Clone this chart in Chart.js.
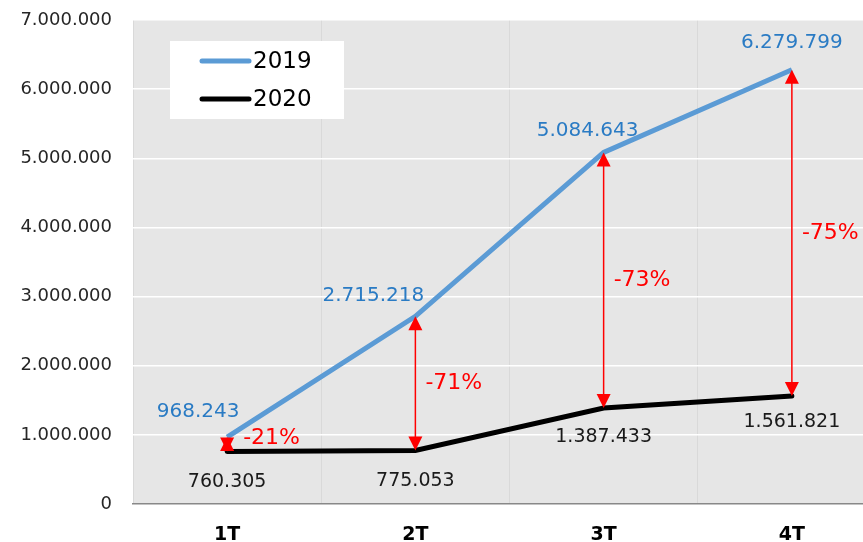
<!DOCTYPE html>
<html>
<head>
<meta charset="utf-8">
<script src="https://cdn.jsdelivr.net/npm/chart.js@4"></script>
<style>
    html, body { margin: 0; padding: 0; background: #fff; overflow: hidden; }
    #wrap { position: relative; width: 886px; height: 542px; }
</style>
</head>
<body>
<div id="wrap"><canvas id="chart"></canvas></div>
<script>
// Quarterly values
const quarters = ['1T', '2T', '3T', '4T'];
const values2019 = [968243, 2715218, 5084643, 6279799];
const values2020 = [760305, 775053, 1387433, 1561821];
const pctLabels = ['-21%', '-71%', '-73%', '-75%'];
const yTicks = [0, 1000000, 2000000, 3000000, 4000000, 5000000, 6000000, 7000000];

const FONT = 'DejaVu Sans';
const fmt = v => v.toString().replace(/\B(?=(\d{3})+(?!\d))/g, '.');

// label offsets for the value labels (px, relative to point)
const offs2019 = [[-29, -25], [-42, -20], [-16, -22], [0, -27]];
const offs2020 = [[0, 31], [0, 31], [0, 29], [0, 26]];

// gray plot background
const bgPlugin = {
    id: 'bg',
    beforeDraw(chart) {
        const a = chart.chartArea;
        const ctx = chart.ctx;
        ctx.save();
        ctx.fillStyle = '#e6e6e6';
        ctx.fillRect(a.left, a.top, a.right - a.left, a.bottom - a.top);
        ctx.restore();
    }
};

function arrowHead(ctx, x, y, dir) {
    // dir = -1 points up, 1 points down
    ctx.beginPath();
    ctx.moveTo(x, y);
    ctx.lineTo(x - 7, y - dir * 14);
    ctx.lineTo(x + 7, y - dir * 14);
    ctx.closePath();
    ctx.fill();
}

// arrows, percent labels, value labels and legend
const overlayPlugin = {
    id: 'overlay',
    afterDatasetsDraw(chart) {
        const ctx = chart.ctx;
        const xs = chart.scales.x, ys = chart.scales.y;
        ctx.save();

        quarters.forEach((q, i) => {
            const x = xs.getPixelForValue(i);
            const yTop = ys.getPixelForValue(values2019[i]);
            const yBot = ys.getPixelForValue(values2020[i]);
            ctx.strokeStyle = '#ff0000';
            ctx.fillStyle = '#ff0000';
            ctx.lineWidth = 1.5;
            ctx.beginPath();
            ctx.moveTo(x, yTop + 4);
            ctx.lineTo(x, yBot - 4);
            ctx.stroke();
            arrowHead(ctx, x, yTop, -1);
            arrowHead(ctx, x, yBot, 1);

            ctx.font = '22px "' + FONT + '"';
            ctx.textAlign = 'left';
            ctx.textBaseline = 'middle';
            const midY = i === 0 ? yTop + 1 : (yTop + yBot) / 2;
            ctx.fillText(pctLabels[i], x + (i === 0 ? 16 : 10), midY);
        });

        ctx.font = '20px "' + FONT + '"';
        ctx.textAlign = 'center';
        ctx.textBaseline = 'middle';
        values2019.forEach((v, i) => {
            const x = xs.getPixelForValue(i);
            const y = ys.getPixelForValue(v);
            ctx.fillStyle = '#2a7bc4';
            ctx.fillText(fmt(v), x + offs2019[i][0], y + offs2019[i][1]);
        });
        ctx.font = '19px "' + FONT + '"';
        values2020.forEach((v, i) => {
            const x = xs.getPixelForValue(i);
            const y = ys.getPixelForValue(v);
            ctx.fillStyle = '#1a1a1a';
            ctx.fillText(fmt(v), x + offs2020[i][0], y + offs2020[i][1]);
        });

        // legend box
        ctx.fillStyle = '#ffffff';
        ctx.fillRect(170, 41, 174, 78);
        chart.data.datasets.forEach((ds, i) => {
            const y = 61 + i * 38;
            ctx.strokeStyle = ds.borderColor;
            ctx.lineWidth = 5;
            ctx.lineCap = 'round';
            ctx.beginPath();
            ctx.moveTo(202, y);
            ctx.lineTo(249, y);
            ctx.stroke();
            ctx.fillStyle = '#000';
            ctx.font = '23px "' + FONT + '"';
            ctx.textAlign = 'left';
            ctx.fillText(ds.label, 253, y + 1);
        });
        ctx.restore();
    }
};

new Chart(document.getElementById('chart'), {
    type: 'line',
    data: {
        labels: quarters,
        datasets: [
            {
                label: '2019',
                data: values2019,
                borderColor: '#5b9bd5',
                borderWidth: 5,
                pointRadius: 0,
                tension: 0
            },
            {
                label: '2020',
                data: values2020,
                borderColor: '#000000',
                borderWidth: 5,
                pointRadius: 0,
                borderCapStyle: 'round',
                tension: 0
            }
        ]
    },
    options: {
        responsive: true,
        maintainAspectRatio: false,
        animation: false,
        layout: { padding: { top: 20, right: 0, bottom: 0, left: 0 } },
        plugins: {
            legend: { display: false },
            tooltip: { enabled: false }
        },
        scales: {
            x: {
                offset: true,
                grid: { offset: true, color: '#d9d9d9', lineWidth: 1, drawTicks: false },
                border: { color: '#888888', width: 1.5 },
                ticks: {
                    padding: 20,
                    color: '#000',
                    font: { family: FONT, size: 19, weight: 'bold' }
                },
                afterFit(scale) { scale.height = 38; }
            },
            y: {
                min: 0,
                max: 7000000,
                afterBuildTicks(scale) { scale.ticks = yTicks.map(v => ({ value: v })); },
                grid: {
                    color: '#ffffff',
                    lineWidth: 1.5,
                    drawTicks: true,
                    tickLength: 21,
                    tickColor: 'rgba(0,0,0,0)'
                },
                border: { display: false },
                ticks: {
                    padding: 0,
                    color: '#262626',
                    font: { family: FONT, size: 18 },
                    callback: v => fmt(v)
                },
                afterFit(scale) { scale.width = 133; }
            }
        }
    },
    plugins: [bgPlugin, overlayPlugin]
});
</script>
</body>
</html>
